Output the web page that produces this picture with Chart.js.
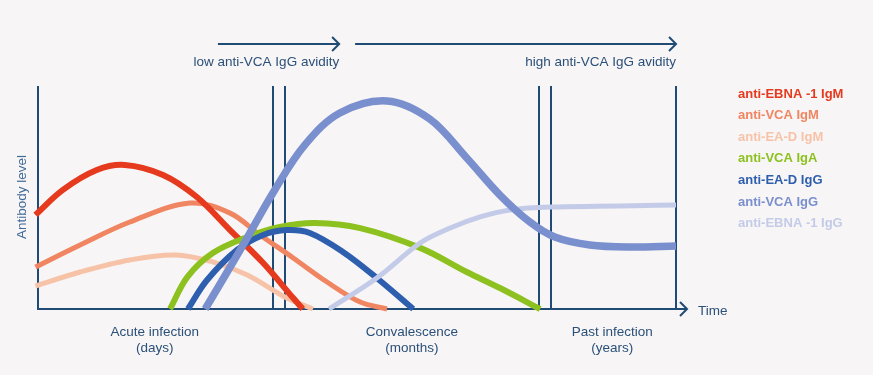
<!DOCTYPE html>
<html>
<head>
<meta charset="utf-8">
<script src="https://cdn.jsdelivr.net/npm/chart.js@4/dist/chart.umd.min.js"></script>
<style>
html, body { margin: 0; padding: 0; background: #f7f5f5; }
#wrap { width: 873px; height: 375px; }
</style>
</head>
<body>
<div id="wrap"><canvas id="c" width="873" height="375"></canvas></div>
<script>
// series names (legend, top to bottom)
const seriesNames = ['anti-EBNA -1 IgM', 'anti-VCA IgM', 'anti-EA-D IgM', 'anti-VCA IgA',
    'anti-EA-D IgG', 'anti-VCA IgG', 'anti-EBNA -1 IgG'];
const seriesColors = ['#e63a1e', '#f08562', '#f7c3a8', '#8cc11f', '#2e5fae', '#7a8fce', '#c3cbe9'];

// antibody level over time (x: 0..100 time axis, y: 0..100 level)
const ebnaIgM = [[-0.4, 42.2], [3.9, 53.4], [9.2, 62.3], [13.6, 64.6], [19.6, 60.1], [24.9, 50.2], [30.1, 35.4], [35.3, 20.6], [40.0, 4.9], [41.5, 0]];
const vcaIgM = [[-0.4, 18.8], [6.6, 28.7], [14.4, 39.0], [23.8, 47.5], [30.1, 43.0], [34.8, 33.2], [40.0, 22.9], [45.3, 12.1], [50.5, 3.1], [54.7, 0]];
const eadIgM = [[-0.4, 10.3], [6.6, 16.6], [14.4, 22.0], [21.5, 24.2], [27.4, 21.1], [32.8, 15.2], [39.0, 4.9], [43.1, 0]];
const vcaIgA = [[20.7, 0], [23.4, 14.3], [27.4, 25.1], [32.8, 32.3], [37.9, 36.8], [43.4, 38.6], [50.5, 36.3], [59.9, 27.4], [67.2, 16.6], [72.4, 9.4], [78.7, 0]];
const eadIgG = [[23.5, 0], [26.5, 13.0], [31.2, 26.5], [35.3, 33.2], [39.0, 35.4], [42.6, 34.1], [47.8, 25.6], [53.1, 13.9], [58.8, 0]];
const vcaIgG = [[26.2, 0], [31.7, 26.5], [37.1, 53.4], [41.8, 73.5], [47.3, 87.9], [54.7, 93.3], [61.4, 85.2], [67.2, 67.7], [72.4, 51.1], [77.1, 39.0], [81.0, 32.3], [86.5, 28.7], [92.8, 27.8], [100, 28.3]];
const ebnaIgG = [[45.6, 0], [53.1, 13.9], [59.9, 29.6], [64.6, 36.3], [69.3, 41.3], [74.0, 44.4], [80.3, 45.7], [100, 46.6]];

// phase boundaries and labels
const phaseLines = [0, 36.8, 38.7, 78.5, 80.4, 100];
const phaseLabels = [['Acute infection', '(days)'], ['Convalescence', '(months)'], ['Past infection', '(years)']];
const phaseLabelX = [18.3, 58.6, 90];
const avidityLabels = ['low anti-VCA IgG avidity', 'high anti-VCA IgG avidity'];
const avidityArrows = [[28.2, 47.2], [49.7, 100]];

const allSeries = [ebnaIgM, vcaIgM, eadIgM, vcaIgA, eadIgG, vcaIgG, ebnaIgG];
const widths = [6, 5, 5, 6, 6, 7.5, 5];
const drawOrder = [4, 5, 6, 3, 2, 0, 1];

const AXIS = '#1f4b75';
const TEXT = '#2b5079';
const FONT = '"Liberation Sans", Arial, sans-serif';

const framePlugin = {
    id: 'frame',
    beforeDatasetsDraw(chart) {
        const c = chart.ctx, x = chart.scales.x, y = chart.scales.y;
        const top = y.getPixelForValue(100), base = y.getPixelForValue(0);
        c.save();
        c.strokeStyle = AXIS;
        c.lineWidth = 2;
        phaseLines.forEach(v => {
            const px = Math.round(x.getPixelForValue(v));
            c.beginPath();
            c.moveTo(px, top);
            c.lineTo(px, base);
            c.stroke();
        });
        // time axis with arrow
        const end = chart.chartArea.right + 3;
        c.beginPath();
        c.moveTo(x.getPixelForValue(0) - 1, base);
        c.lineTo(end, base);
        c.stroke();
        c.beginPath();
        c.moveTo(end - 7, base - 7);
        c.lineTo(end, base);
        c.lineTo(end - 7, base + 7);
        c.stroke();
        c.restore();
    },
    afterDraw(chart) {
        const c = chart.ctx, x = chart.scales.x, y = chart.scales.y;
        const base = y.getPixelForValue(0);
        c.save();
        c.strokeStyle = AXIS;
        c.lineWidth = 2;
        c.fillStyle = TEXT;
        c.font = '13.5px ' + FONT;
        c.textBaseline = 'middle';
        // avidity arrows
        avidityArrows.forEach((a, i) => {
            const x0 = x.getPixelForValue(a[0]), x1 = x.getPixelForValue(a[1]);
            const ay = 44;
            c.beginPath();
            c.moveTo(x0, ay);
            c.lineTo(x1, ay);
            c.stroke();
            c.beginPath();
            c.moveTo(x1 - 7, ay - 7);
            c.lineTo(x1, ay);
            c.lineTo(x1 - 7, ay + 7);
            c.stroke();
            c.textAlign = 'right';
            c.fillText(avidityLabels[i], x1, 62);
        });
        // phase labels
        c.textAlign = 'center';
        phaseLabels.forEach((lab, i) => {
            const px = x.getPixelForValue(phaseLabelX[i]);
            c.fillText(lab[0], px, base + 23);
            c.fillText(lab[1], px, base + 39);
        });
        c.textAlign = 'left';
        c.fillText('Time', chart.chartArea.right + 14, base + 2);
        // y title
        c.save();
        c.translate(22, 197);
        c.rotate(-Math.PI / 2);
        c.textAlign = 'center';
        c.fillStyle = '#3f6a99';
        c.fillText('Antibody level', 0, 0);
        c.restore();
        // legend
        c.font = 'bold 13px ' + FONT;
        seriesNames.forEach((n, i) => {
            c.fillStyle = seriesColors[i];
            c.fillText(n, 738, 94 + i * 21.6);
        });
        c.restore();
    }
};

const datasets = allSeries.map((s, i) => ({
    label: seriesNames[i],
    data: s.map(p => ({ x: p[0], y: p[1] })),
    borderColor: seriesColors[i],
    borderWidth: widths[i],
    order: drawOrder[i],
    pointRadius: 0,
    fill: false,
    clip: false,
    tension: 0.35
}));

new Chart(document.getElementById('c').getContext('2d'), {
    type: 'line',
    data: { datasets: datasets },
    options: {
        responsive: false,
        animation: false,
        devicePixelRatio: 1,
        layout: { padding: { left: 38, top: 86, right: 873 - 684, bottom: 375 - 309 } },
        scales: {
            x: { type: 'linear', min: 0, max: 101.25, display: false },
            y: { min: 0, max: 100, display: false }
        },
        plugins: { legend: { display: false }, tooltip: { enabled: false } }
    },
    plugins: [framePlugin]
});
</script>
</body>
</html>
